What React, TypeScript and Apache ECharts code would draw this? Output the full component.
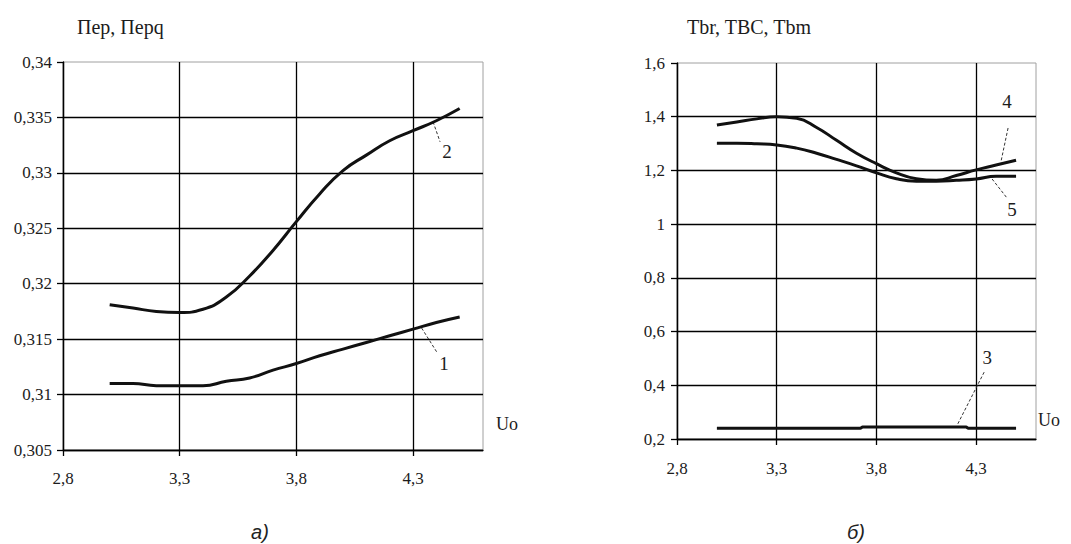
import React, { useEffect, useRef } from "react";
import * as echarts from "echarts";

// ---- data ----
const xTicks = [2.8, 3.3, 3.8, 4.3];
const uo = [3.0, 3.1, 3.2, 3.3, 3.4, 3.5, 3.6, 3.7, 3.8, 3.9, 4.0, 4.1, 4.2, 4.3, 4.4, 4.5];
const per1 = [0.311, 0.311, 0.3108, 0.3108, 0.3108, 0.3112, 0.3115, 0.3122, 0.3128, 0.3135, 0.3141, 0.3147, 0.3153, 0.3159, 0.3165, 0.317];
const per2 = [0.3181, 0.3178, 0.3175, 0.3174, 0.3177, 0.3188, 0.3207, 0.323, 0.3256, 0.3281, 0.3302, 0.3316, 0.3329, 0.3338, 0.3347, 0.3358];
const tbm4 = [1.369, 1.38, 1.392, 1.4, 1.394, 1.36, 1.312, 1.264, 1.225, 1.191, 1.169, 1.163, 1.181, 1.202, 1.22, 1.238];
const tbc5 = [1.301, 1.301, 1.299, 1.295, 1.283, 1.264, 1.241, 1.217, 1.191, 1.169, 1.16, 1.16, 1.163, 1.168, 1.178, 1.178];
const uo3 = [3.0, 3.72, 3.73, 4.25, 4.26, 4.5];
const tbr3 = [0.24, 0.24, 0.245, 0.245, 0.24, 0.24];

// curve labels: [label, labelX, labelY, leaderX1, leaderY1, leaderX2, leaderY2]
const leftNotes: [string, number, number, number, number, number, number][] = [
  ["2", 4.446, 0.3319, 4.386, 0.3346, 4.416, 0.3328],
  ["1", 4.433, 0.3128, 4.337, 0.316, 4.403, 0.3138],
];
const rightNotes: [string, number, number, number, number, number, number][] = [
  ["4", 4.455, 1.455, 4.46, 1.358, 4.425, 1.235],
  ["5", 4.48, 1.053, 4.38, 1.168, 4.455, 1.097],
  ["3", 4.355, 0.505, 4.34, 0.449, 4.205, 0.252],
];

const leftTitle = "Пер, Перq";
const rightTitle = "Tbr, TBC, Tbm";
const xName = "Uo";
const captions = ["а)", "б)"];

const SERIF = "Liberation Serif, serif";
const SANS = "Liberation Sans";
const TXT = "#1c1c1c";

const zip = (xs: number[], ys: number[]) => xs.map((x, i) => [x, ys[i]]);
const fmtX = (v: number) => String(+v.toFixed(1)).replace(".", ",");
const fmtY = (v: number) => String(+v.toFixed(3)).replace(".", ",");

const tickText = { fontFamily: SERIF, fontSize: 17, color: TXT };

function xAxisCfg(gridIndex: number, margin: number) {
  return {
    type: "value",
    gridIndex,
    min: 2.8,
    max: 4.6,
    axisLine: { show: true, onZero: false, lineStyle: { color: "#000", width: 1.3 } },
    axisTick: { show: true, length: 6, customValues: xTicks, lineStyle: { color: "#000", width: 1.3 } },
    axisLabel: { customValues: xTicks, formatter: fmtX, margin, ...tickText },
    splitLine: { show: true, lineStyle: { color: "#000", width: 1.3 } },
  };
}

function yAxisCfg(gridIndex: number, min: number, max: number, interval: number, margin: number) {
  return {
    type: "value",
    gridIndex,
    min,
    max,
    interval,
    axisLine: { show: true, onZero: false, lineStyle: { color: "#000", width: 1.3 } },
    axisTick: { show: true, length: 6, lineStyle: { color: "#000", width: 1.3 } },
    axisLabel: { formatter: fmtY, margin, ...tickText },
    splitLine: { show: true, showMaxLine: false, lineStyle: { color: "#000", width: 1.3 } },
  };
}

function curve(data: number[][], idx: number, notes: any[] | null, smooth: number | boolean) {
  const s: any = {
    type: "line",
    xAxisIndex: idx,
    yAxisIndex: idx,
    data,
    smooth,
    symbol: "none",
    lineStyle: { color: "#111", width: 3 },
    z: 5,
  };
  if (notes) {
    s.markLine = {
      silent: true,
      symbol: ["none", "none"],
      label: { show: false },
      lineStyle: { color: "#333", width: 1, type: [3, 2] },
      data: notes.map((n) => [{ coord: [n[3], n[4]] }, { coord: [n[5], n[6]] }]),
    };
    s.markPoint = {
      silent: true,
      symbol: "circle",
      symbolSize: 1,
      itemStyle: { color: "rgba(0,0,0,0)" },
      data: notes.map((n) => ({
        coord: [n[1], n[2]],
        label: { show: true, formatter: n[0], position: "inside", fontFamily: SERIF, fontSize: 19, color: TXT },
      })),
    };
  }
  return s;
}

export default function App() {
  const ref = useRef<HTMLDivElement>(null);
  useEffect(() => {
    if (!ref.current) return;
    const chart = echarts.init(ref.current, null, { renderer: "svg" });
    chart.setOption({
      animation: false,
      backgroundColor: "#fff",
      textStyle: { fontFamily: SERIF },
      grid: [
        { left: 63, top: 62, width: 420, height: 388, show: true, borderColor: "#a0a0a0", borderWidth: 1, backgroundColor: "transparent" },
        { left: 677, top: 63, width: 359, height: 376, show: true, borderColor: "#a0a0a0", borderWidth: 1, backgroundColor: "transparent" },
      ],
      xAxis: [xAxisCfg(0, 20), xAxisCfg(1, 21)],
      yAxis: [yAxisCfg(0, 0.305, 0.34, 0.005, 11), yAxisCfg(1, 0.2, 1.6, 0.2, 12)],
      series: [
        curve(zip(uo, per2), 0, [leftNotes[0]], 0.5),
        curve(zip(uo, per1), 0, [leftNotes[1]], 0.5),
        curve(zip(uo, tbm4), 1, [rightNotes[0]], 0.5),
        curve(zip(uo, tbc5), 1, [rightNotes[1]], 0.5),
        curve(zip(uo3, tbr3), 1, [rightNotes[2]], false),
      ],
      graphic: [
        { type: "text", x: 77, y: 27, style: { text: leftTitle, fontFamily: SERIF, fontSize: 20, fill: TXT, verticalAlign: "middle" } },
        { type: "text", x: 687, y: 27, style: { text: rightTitle, fontFamily: SERIF, fontSize: 20, fill: TXT, verticalAlign: "middle" } },
        { type: "text", x: 496, y: 424, style: { text: xName, fontFamily: SERIF, fontSize: 18, fill: TXT, verticalAlign: "middle" } },
        { type: "text", x: 1038, y: 420, style: { text: xName, fontFamily: SERIF, fontSize: 18, fill: TXT, verticalAlign: "middle" } },
        { type: "text", x: 260, y: 532, style: { text: captions[0], fontFamily: SANS, fontStyle: "italic", fontSize: 20, fill: "#222", align: "center", verticalAlign: "middle" } },
        { type: "text", x: 856, y: 532, style: { text: captions[1], fontFamily: SANS, fontStyle: "italic", fontSize: 20, fill: "#222", align: "center", verticalAlign: "middle" } },
      ],
    });
    return () => chart.dispose();
  }, []);
  return (
    <div
      ref={ref}
      style={{ position: "absolute", left: 0, top: 0, width: 1071, height: 544, background: "#fff" }}
    />
  );
}
